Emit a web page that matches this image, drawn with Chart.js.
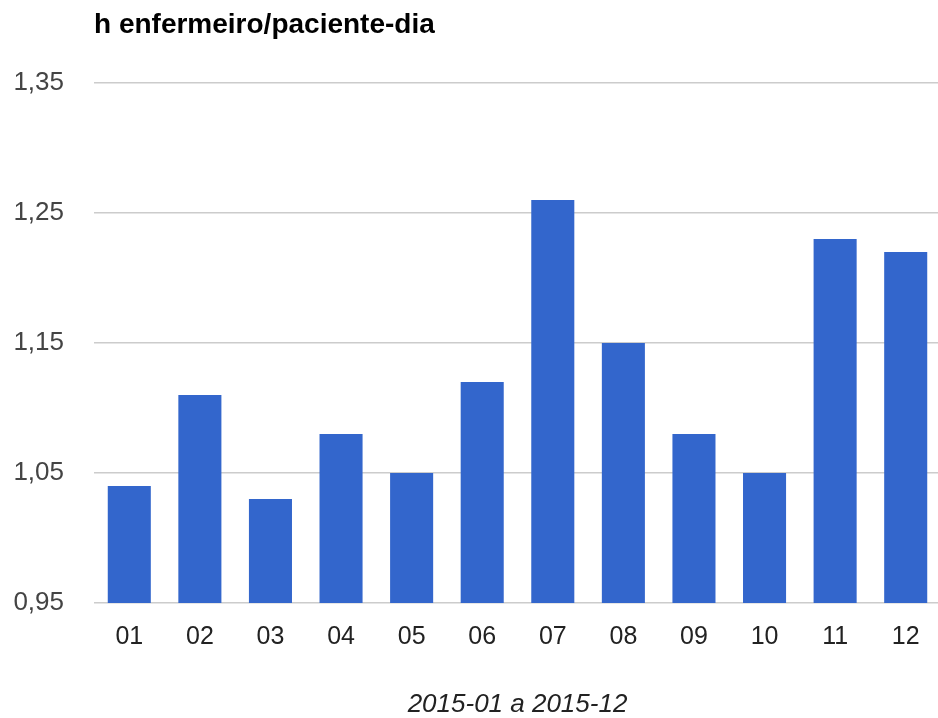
<!DOCTYPE html>
<html>
<head>
<meta charset="utf-8">
<script src="https://cdn.jsdelivr.net/npm/chart.js@4.4.0/dist/chart.umd.min.js"></script>
<style>
  html, body { margin: 0; padding: 0; background: #fff; overflow: hidden; }
  #wrap { width: 941px; height: 718px; }
</style>
</head>
<body>
<div id="wrap"><canvas id="grafico-horas"></canvas></div>
<script>
// Horas de enfermagem por paciente-dia, 2015
const meses = ['01', '02', '03', '04', '05', '06', '07', '08', '09', '10', '11', '12'];
const horas = [1.04, 1.11, 1.03, 1.08, 1.05, 1.12, 1.26, 1.15, 1.08, 1.05, 1.23, 1.22];
const yTicks = [0.95, 1.05, 1.15, 1.25, 1.35];

const fonte = "'Liberation Sans', Arial, sans-serif";

new Chart(document.getElementById('grafico-horas').getContext('2d'), {
    type: 'bar',
    data: {
        labels: meses,
        datasets: [{
            label: 'h enfermeiro/paciente-dia',
            data: horas,
            backgroundColor: '#3366cc',
            borderWidth: 0,
            barPercentage: 0.61,
            categoryPercentage: 1
        }]
    },
    options: {
        responsive: true,
        maintainAspectRatio: false,
        animation: false,
        layout: { padding: 0 },
        plugins: {
            legend: { display: false },
            tooltip: { enabled: false },
            title: {
                display: true,
                text: 'h enfermeiro/paciente-dia',
                align: 'start',
                fullSize: false,
                color: '#000',
                font: { family: fonte, size: 28, weight: 'bold', lineHeight: 1 },
                padding: { top: 11, bottom: 44 }
            }
        },
        scales: {
            x: {
                grid: { display: false },
                border: { display: false },
                ticks: {
                    color: '#222',
                    padding: 11,
                    font: { family: fonte, size: 25 }
                },
                title: {
                    display: true,
                    text: '2015-01 a 2015-12',
                    color: '#222',
                    font: { family: fonte, size: 26, style: 'italic', lineHeight: 1 },
                    padding: { top: 0, bottom: 0 }
                },
                afterFit: function(scale) { scale.height = 115; }
            },
            y: {
                min: 0.95,
                max: 1.35,
                border: { display: false },
                grid: { color: '#cccccc', lineWidth: 1.5, drawTicks: false },
                afterBuildTicks: function(scale) {
                    scale.ticks = yTicks.map(v => ({ value: v }));
                },
                ticks: {
                    color: '#444',
                    padding: 30,
                    font: { family: fonte, size: 26 },
                    callback: function(value) {
                        return value.toFixed(2).replace('.', ',');
                    }
                },
                afterFit: function(scale) { scale.width = 94; }
            }
        }
    }
});
</script>
</body>
</html>
